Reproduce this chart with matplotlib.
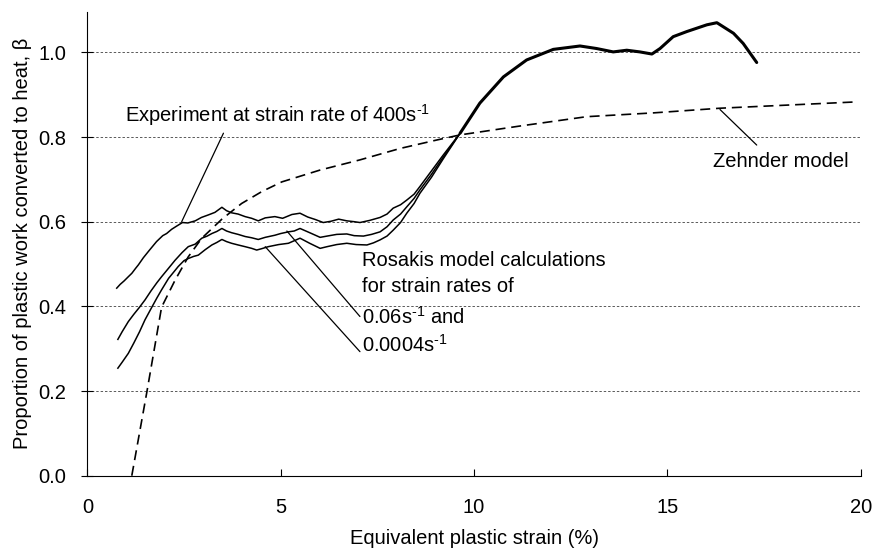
import numpy as np
import matplotlib
matplotlib.use("Agg")
import matplotlib.pyplot as plt

plt.rcParams['font.family'] = ['Liberation Sans', 'DejaVu Sans']
plt.rcParams['mathtext.fontset'] = 'custom'
plt.rcParams['mathtext.rm'] = 'Liberation Sans'
plt.rcParams['mathtext.it'] = 'Liberation Sans:italic'

# experiment at 400/s (upper solid curve, up to where the curves merge)
exp_x = [0.76, 0.85, 0.95, 1.06, 1.15, 1.25, 1.32, 1.45, 1.6, 1.79, 1.95, 2.05, 2.18, 2.3, 2.46,
         2.6, 2.79, 2.95, 3.13, 3.3, 3.48, 3.6, 3.73, 3.9, 4.08, 4.25, 4.42, 4.6, 4.85, 5.05, 5.29,
         5.5, 5.7, 5.9, 6.1, 6.3, 6.5, 6.71, 6.9, 7.05, 7.3, 7.57, 7.75, 7.91, 8.1, 8.26, 8.45, 8.6,
         8.9, 9.2, 9.64]
exp_y = [0.443, 0.452, 0.46, 0.47, 0.478, 0.49, 0.498, 0.515, 0.532, 0.553, 0.567, 0.572, 0.582,
         0.589, 0.598, 0.597, 0.602, 0.61, 0.616, 0.622, 0.634, 0.626, 0.621, 0.618, 0.612, 0.608,
         0.602, 0.609, 0.612, 0.608, 0.617, 0.62, 0.611, 0.605, 0.598, 0.601, 0.606, 0.602, 0.6,
         0.598, 0.603, 0.61, 0.618, 0.632, 0.64, 0.651, 0.665, 0.683, 0.72, 0.757, 0.809]

# Rosakis model, 0.06/s
ros1_x = [0.79, 0.9, 1.06, 1.2, 1.35, 1.49, 1.65, 1.8, 1.92, 2.1, 2.27, 2.45, 2.61, 2.79, 2.96,
          3.1, 3.22, 3.35, 3.48, 3.6, 3.73, 3.9, 4.08, 4.25, 4.42, 4.6, 4.85, 5.0, 5.2, 5.35, 5.5,
          5.75, 6.02, 6.2, 6.45, 6.71, 6.9, 7.14, 7.35, 7.57, 7.75, 7.91, 8.1, 8.26, 8.45, 8.6,
          8.9, 9.2, 9.64]
ros1_y = [0.322, 0.34, 0.364, 0.381, 0.398, 0.415, 0.437, 0.456, 0.47, 0.49, 0.509, 0.527, 0.541,
          0.547, 0.561, 0.566, 0.572, 0.577, 0.584, 0.578, 0.574, 0.57, 0.565, 0.562, 0.558, 0.563,
          0.568, 0.572, 0.576, 0.578, 0.584, 0.574, 0.563, 0.566, 0.57, 0.571, 0.567, 0.566, 0.57,
          0.576, 0.588, 0.604, 0.618, 0.635, 0.655, 0.675, 0.712, 0.752, 0.809]

# Rosakis model, 0.0004/s
ros2_x = [0.79, 0.9, 1.06, 1.2, 1.35, 1.49, 1.65, 1.8, 1.92, 2.1, 2.35, 2.5, 2.61, 2.75, 2.87,
          3.05, 3.22, 3.35, 3.48, 3.6, 3.73, 3.9, 4.08, 4.25, 4.38, 4.5, 4.68, 4.95, 5.2, 5.35, 5.5,
          5.75, 6.02, 6.2, 6.45, 6.71, 6.95, 7.23, 7.4, 7.57, 7.75, 7.91, 8.1, 8.26, 8.45, 8.6,
          8.9, 9.2, 9.64]
ros2_y = [0.254, 0.268, 0.289, 0.313, 0.34, 0.368, 0.395, 0.42, 0.439, 0.466, 0.494, 0.508, 0.513,
          0.518, 0.521, 0.534, 0.545, 0.551, 0.558, 0.553, 0.549, 0.545, 0.541, 0.537, 0.533, 0.536,
          0.541, 0.546, 0.549, 0.555, 0.561, 0.549, 0.537, 0.541, 0.546, 0.549, 0.546, 0.545, 0.55,
          0.557, 0.566, 0.58, 0.598, 0.62, 0.643, 0.667, 0.705, 0.748, 0.809]

# common part where all three solid curves lie on top of each other
tail_x = [9.64, 10.15, 10.76, 11.36, 12.05, 12.74, 13.17, 13.6, 13.95, 14.29, 14.6, 14.81, 15.15,
          15.5, 16.02, 16.28, 16.71, 16.96, 17.31]
tail_y = [0.809, 0.88, 0.942, 0.982, 1.007, 1.015, 1.009, 1.001, 1.005, 1.001, 0.996, 1.009, 1.037,
          1.049, 1.065, 1.07, 1.045, 1.021, 0.976]

# Zehnder model (dashed)
zeh_x = [1.15, 1.54, 1.92, 2.27, 2.61, 2.96, 3.48, 3.99, 4.51, 5.03, 6.02, 7.05, 8.09, 9.04, 9.64,
         11.19, 12.91, 14.64, 16.36, 19.9]
zeh_y = [0.0, 0.198, 0.398, 0.462, 0.517, 0.561, 0.606, 0.643, 0.671, 0.694, 0.722, 0.746, 0.773,
         0.793, 0.805, 0.826, 0.848, 0.857, 0.868, 0.883]

yticks = [0.0, 0.2, 0.4, 0.6, 0.8, 1.0]
xticks = [0, 5, 10, 15, 20]

fig = plt.figure(figsize=(8.75, 5.49), dpi=100)
ax = fig.add_axes([0.0998, 0.1335, 0.8839, 0.8452])

for gy in yticks[1:]:
    ax.plot([0, 20], [gy, gy], color='0.35', lw=0.7, ls=(0, (2.5, 2)), zorder=1)

for xs, ys in [(exp_x, exp_y), (ros1_x, ros1_y), (ros2_x, ros2_y)]:
    ax.plot(xs, ys, color='black', lw=1.1, zorder=3)
ax.plot(tail_x, tail_y, color='black', lw=2.2, zorder=3, solid_capstyle='round')
ax.plot(zeh_x, zeh_y, color='black', lw=1.2, ls=(0, (6, 3.5)), zorder=3)

# leader lines + labels
lead = dict(arrowstyle='-', lw=0.9, color='black', shrinkA=0, shrinkB=0)
ax.annotate('', xy=(2.44, 0.600), xytext=(3.52, 0.809), arrowprops=lead)
ax.annotate('', xy=(16.36, 0.865), xytext=(17.31, 0.781), arrowprops=lead)
ax.annotate('', xy=(5.16, 0.578), xytext=(7.05, 0.376), arrowprops=lead)
ax.annotate('', xy=(4.6, 0.541), xytext=(7.05, 0.293), arrowprops=lead)

fs = 14.5
sup = r'$^{\text{-1}}$'
ax.text(0.975, 0.852, 'Experiment at strain rate of 400s' + sup, fontsize=fs, va='center')
ax.text(16.19, 0.741, 'Zehnder model', fontsize=fs, va='center')
ax.text(7.1, 0.509, 'Rosakis model calculations', fontsize=fs, va='center')
ax.text(7.1, 0.448, 'for strain rates of', fontsize=fs, va='center')
ax.text(7.1, 0.376, '0.06s' + sup + ' and', fontsize=fs, va='center')
ax.text(7.1, 0.309, '0.0004s' + sup, fontsize=fs, va='center')

ax.set_xlim(0, 20)
ax.set_ylim(0, 1.096)
ax.set_xticks(xticks)
ax.set_yticks(yticks)
ax.set_yticklabels(['%.1f' % v for v in yticks])
ax.tick_params(axis='x', direction='in', length=5, labelsize=fs, pad=16)
ax.tick_params(axis='y', direction='inout', length=8, labelsize=fs, pad=11)
ax.spines['top'].set_visible(False)
ax.spines['right'].set_visible(False)
ax.set_xlabel('Equivalent plastic strain (%)', fontsize=fs, labelpad=9)
ax.set_ylabel('Proportion of plastic work converted to heat, β', fontsize=fs, labelpad=5)

fig.savefig('out.png', dpi=100)
